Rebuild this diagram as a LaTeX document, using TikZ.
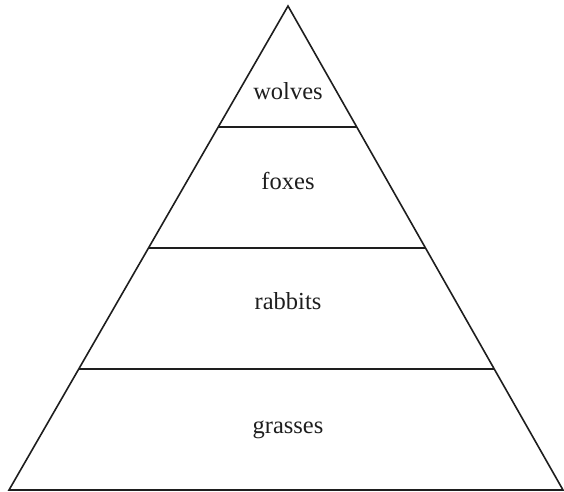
\documentclass[tikz,border=0pt]{standalone}
\usepackage{fontspec}
\setmainfont{Liberation Serif}
\usepackage{xcolor}
\usepackage{tikz}
\usetikzlibrary{calc}
\definecolor{pyedge}{RGB}{30,30,30}
\tikzset{
  pyline/.style={draw=pyedge, line width=1.6pt, line join=miter},
  tier/.style={
    anchor=base, inner sep=0pt, text=pyedge,
    font=\fontsize{24.5}{29}\selectfont
  }
}
\begin{document}
\begin{tikzpicture}[x=1pt, y=-1pt]
  \useasboundingbox (0,0) rectangle (564,491);
  \coordinate (apex) at (288,6);
  \coordinate (bl) at (9,490);
  \coordinate (br) at (563,490);
  % outline
  \draw[pyline] (bl) -- (apex) -- (br) -- cycle;
  % tier boundaries
  \foreach \f/\n in {0.25/a, 0.5/b, 0.75/c} {
    \coordinate (l\n) at ($(apex)!\f!(bl)$);
    \coordinate (r\n) at ($(apex)!\f!(br)$);
    \draw[pyline] (l\n) -- (r\n);
  }
  \node[tier] (wolves) at (288,99) {wolves};
  \node[tier] (foxes) at (288,189) {foxes};
  \node[tier] (rabbits) at (288,309) {rabbits};
  \node[tier] (grasses) at (288,433) {grasses};
\end{tikzpicture}
\end{document}
